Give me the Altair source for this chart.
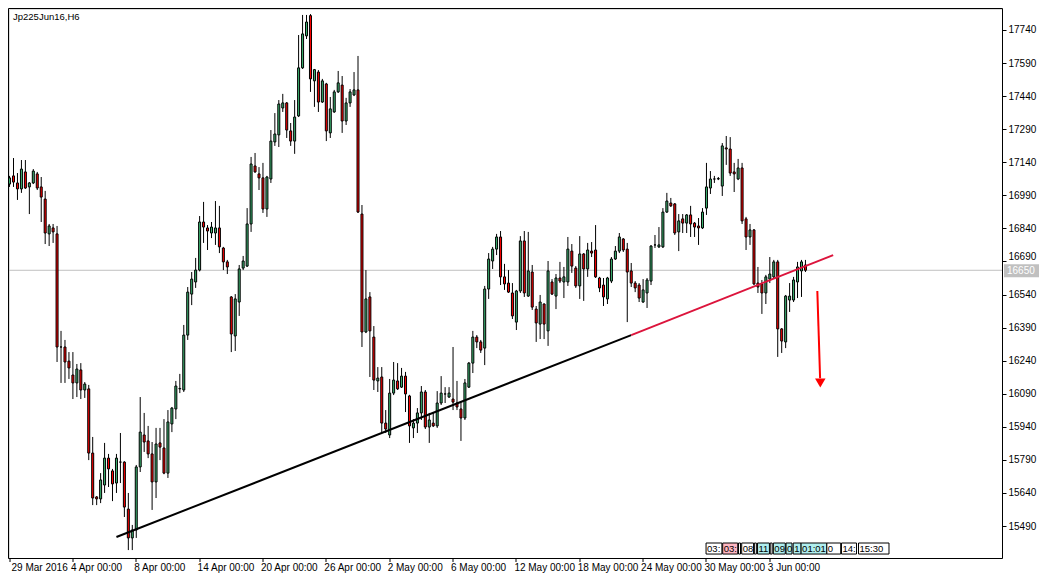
import altair as alt
import pandas as pd

# ---- OHLC values (H6 bars, index 0 = 29 Mar 2016 00:00) ----
opens = [17041,17078,17046,17019,17096,17028,17046,17087,17028,16973,16815,16842,16815,16302,16302,16238,16175,16139,16198,16107,
         16112,15821,15622,15613,15676,15798,15740,15685,15780,15780,15567,15436,15472,15758,15903,15876,15817,15690,15867,15844,
         15730,15953,16021,16112,16107,16356,16542,16597,16651,16869,16842,16819,16819,16842,16751,16688,16529,16352,16506,16660,
         16669,16860,17123,17087,17069,16928,17064,17232,17264,17386,17409,17282,17236,17350,17568,17713,17805,17509,17549,17413,
         17495,17273,17368,17459,17490,17327,17409,17445,17468,16905,16370,16529,16347,16148,16166,15957,15903,16093,16148,16120,
         16170,16080,15935,15957,16003,16098,15939,15957,15944,16048,16089,16075,16066,16048,16021,15980,16120,16229,16347,16325,
         16297,16565,16692,16746,16801,16620,16592,16547,16415,16556,16783,16533,16642,16474,16406,16497,16375,16597,16533,16615,
         16597,16597,16737,16660,16579,16724,16656,16737,16742,16615,16583,16520,16601,16701,16737,16792,16746,16647,16592,16583,
         16506,16547,16601,16765,16756,16756,16914,16955,16951,16824,16883,16864,16901,16864,16851,16842,16932,17023,17064,17064,
         17032,17205,17200,17096,17064,17114,16883,16801,16833,16592,16588,16547,16610,16620,16688,16384,16325,16515,16515,16597,
         16647,16674]
highs = [17078,17159,17091,17150,17150,17050,17109,17096,17073,17010,16860,16860,16851,16375,16334,16279,16279,16225,16229,16143,
         16130,15894,15626,15730,15867,15817,15749,15817,15912,15784,15640,15495,15767,16075,16003,15944,15871,15935,15935,15975,
         16016,16030,16148,16180,16402,16574,16642,16706,16896,16960,16855,16869,16964,16942,16756,16697,16533,16542,16674,16715,
         16932,17164,17182,17118,17137,17078,17286,17363,17422,17450,17413,17318,17422,17717,17808,17808,17812,17563,17558,17518,
         17500,17436,17468,17554,17531,17432,17472,17549,17622,16946,16651,16551,16397,16211,16211,16016,16157,16234,16229,16207,
         16189,16085,15975,16025,16125,16107,16003,16003,16102,16170,16120,16120,16302,16148,16052,16157,16234,16375,16356,16334,
         16579,16728,16756,16815,16828,16679,16651,16592,16561,16805,16828,16824,16674,16488,16538,16500,16692,16610,16633,16688,
         16665,16801,16769,16669,16805,16728,16774,16778,16855,16620,16615,16620,16710,16760,16819,16796,16774,16683,16601,16592,
         16610,16615,16764,16810,16846,16932,17001,16978,16955,16905,16905,16905,16942,16869,16887,16932,17137,17100,17078,17073,
         17227,17259,17254,17137,17155,17137,16892,16860,16837,16665,16606,16629,16710,16697,16697,16388,16538,16592,16620,16688,
         16697,16697]
lows = [17028,17028,16969,17001,17019,16905,17041,17014,16869,16769,16760,16774,16234,16139,16139,16157,16066,16075,16066,16071,
        15789,15585,15585,15594,15640,15667,15603,15640,15685,15531,15381,15381,15436,15735,15826,15798,15563,15617,15789,15725,
        15708,15916,15975,16093,16098,16334,16492,16570,16645,16774,16742,16796,16765,16728,16651,16633,16279,16284,16443,16651,
        16665,16824,17092,17014,16910,16892,17046,17214,17209,17368,17250,17214,17178,17345,17563,17699,17459,17391,17368,17409,
        17236,17250,17364,17454,17273,17309,17391,17440,16910,16302,16365,16166,16107,16098,15912,15912,15889,16084,16107,16116,
        16007,15867,15889,15912,15971,15930,15867,15939,15935,16039,16048,16071,16016,16016,15876,15971,16116,16184,16297,16275,
        16220,16520,16656,16719,16583,16561,16547,16429,16379,16547,16529,16529,16470,16325,16338,16338,16307,16538,16474,16592,
        16524,16579,16638,16570,16520,16511,16620,16710,16615,16551,16488,16497,16592,16697,16728,16733,16415,16574,16551,16506,
        16502,16479,16583,16751,16751,16751,16910,16937,16810,16737,16819,16819,16801,16801,16765,16837,16901,16996,17046,17059,
        16987,17128,17078,17005,17059,16860,16742,16765,16583,16547,16452,16497,16592,16615,16257,16275,16297,16461,16506,16524,
        16529,16642]
closes = [17069,17050,17019,17109,17023,17046,17100,17023,16982,16819,16851,16824,16302,16302,16234,16207,16139,16202,16107,16134,
          15821,15617,15613,15699,15798,15749,15681,15798,15780,15576,15436,15472,15758,15916,15871,15817,15690,15862,15848,15730,
          15962,16025,16125,16114,16356,16551,16610,16651,16869,16846,16828,16846,16842,16756,16688,16665,16361,16520,16656,16692,
          16860,17132,17096,17069,16928,17073,17236,17268,17404,17409,17286,17236,17345,17568,17722,17776,17518,17560,17413,17509,
          17282,17382,17459,17500,17327,17409,17459,17468,16914,16370,16520,16375,16152,16161,15957,15930,16093,16152,16112,16170,
          16089,15944,15957,16003,16098,15939,15971,15944,16048,16093,16089,16093,16052,16030,15980,16139,16229,16347,16325,16288,
          16565,16701,16746,16801,16620,16588,16551,16443,16556,16783,16547,16647,16483,16411,16506,16406,16647,16542,16615,16601,
          16620,16746,16669,16579,16724,16656,16742,16728,16620,16570,16529,16615,16701,16737,16801,16742,16642,16592,16570,16524,
          16561,16606,16760,16765,16765,16914,16964,16942,16819,16874,16864,16901,16860,16846,16842,16914,17028,17064,17064,17066,
          17214,17200,17091,17087,17114,16874,16801,16833,16588,16574,16547,16620,16633,16688,16384,16329,16533,16533,16606,16665,
          16688,16650]

# ---- axis labels ----
x_tick_bars = [0, 16, 32, 48, 64, 80, 96, 112, 128, 144, 160, 176, 192]
x_tick_labels = ["29 Mar 2016", "4 Apr 00:00", "8 Apr 00:00", "14 Apr 00:00", "20 Apr 00:00", "26 Apr 00:00",
                 "2 May 00:00", "6 May 00:00", "12 May 00:00", "18 May 00:00", "24 May 00:00", "30 May 00:00",
                 "3 Jun 00:00"]
y_ticks = [15490, 15640, 15790, 15940, 16090, 16240, 16390, 16540, 16690, 16840, 16990, 17140, 17290, 17440, 17590, 17740]

# ---- drawn objects ----
trend_black_x = [27, 157]
trend_black_y = [15440, 16356]
trend_red_x = [157, 208]
trend_red_y = [16356, 16719]
arrow_x = [204.0, 204.7]
arrow_y = [16556, 16160]
arrow_head = (204.75, 16139)
bid_price = 16650
symbol_title = "Jp225Jun16,H6"

session_start = [175.9, 180.1, 184.1, 184.9, 188.1, 188.9, 192.1, 192.9, 196.1, 197.9, 199.9, 206.4, 210.1, 214.4]
session_end = [179.9, 183.9, 184.6, 187.9, 188.6, 191.9, 192.6, 195.9, 197.6, 199.9, 206.4, 209.9, 213.9, 222.1]
session_text = ["03:", "03:", "", "08", "", "11", "", "09", "0", "1", "01:01", "0", "14:", "15:30"]
session_kind = ["plain", "pink", "plain", "plain", "plain", "cyan", "plain", "cyan", "cyan", "cyan", "cyan",
                "plain", "plain", "plain"]
session_low, session_high = 15363, 15413

FONT = "Liberation Sans"
W, H = 993, 549
X_DOMAIN = [1.125, 249.375]
Y_DOMAIN = [15345, 17835]

n = len(opens)
df = pd.DataFrame({"i": list(range(n)), "open": opens, "high": highs, "low": lows, "close": closes})
df["dir"] = ["up" if c > o else ("down" if c < o else "flat") for o, c in zip(opens, closes)]

xs = alt.Scale(domain=X_DOMAIN, nice=False, zero=False)
ys = alt.Scale(domain=Y_DOMAIN, nice=False, zero=False)

label_expr = "[" + ",".join("'" + s + "'" for s in x_tick_labels) + "][round(datum.value/16)]"

x_axis = alt.Axis(values=x_tick_bars, labelExpr=label_expr, tickSize=4, tickColor="black", labelAlign="left",
                  labelOffset={"condition": {"test": "datum.value == 0", "value": 2}, "value": -2},
                  labelPadding=1, labelFont=FONT, labelFontSize=10, labelColor="black",
                  grid=False, domain=False, title=None, labelOverlap=False, labelFlush=False, translate=0)
y_axis = alt.Axis(values=y_ticks, orient="right", tickSize=4, tickColor="black", labelPadding=2,
                  labelFont=FONT, labelFontSize=10, labelColor="black", grid=False, domain=False,
                  title=None, labelOverlap=False, format="d", translate=0.5,
                  labelOffset={"condition": {"test": "datum.value == 16690", "value": -5}, "value": 0})


def X(field):
    return alt.X(field, scale=xs, axis=x_axis)


def Y(field):
    return alt.Y(field, scale=ys, axis=y_axis)


base = alt.Chart(df)

bid_line = alt.Chart(pd.DataFrame({"p": [bid_price]})).mark_rule(color="#c0c0c0", strokeWidth=1).encode(
    y=Y("p:Q"))

wicks = base.mark_rule(color="black", strokeWidth=1, clip=True).encode(
    x=X("i:Q"), y=Y("low:Q"), y2="high:Q")

bodies = base.mark_bar(size=2, stroke="black", strokeWidth=1, clip=True).encode(
    x=X("i:Q"), y=Y("open:Q"), y2="close:Q",
    color=alt.Color("dir:N", scale=alt.Scale(domain=["up", "down", "flat"],
                                             range=["#3cb371", "#ff0000", "#000000"]), legend=None))

tb = alt.Chart(pd.DataFrame({"x": trend_black_x, "y": trend_black_y})).mark_line(
    color="black", strokeWidth=2).encode(x=X("x:Q"), y=Y("y:Q"))
tr = alt.Chart(pd.DataFrame({"x": trend_red_x, "y": trend_red_y})).mark_line(
    color="#dc143c", strokeWidth=2).encode(x=X("x:Q"), y=Y("y:Q"))

arrow_line = alt.Chart(pd.DataFrame({"x": [arrow_x[0]], "x2": [arrow_x[1]],
                                     "y": [arrow_y[0]], "y2": [arrow_y[1]]})).mark_rule(
    color="#ff0000", strokeWidth=2).encode(x=X("x:Q"), x2="x2:Q", y=Y("y:Q"), y2="y2:Q")
arrow_tip = alt.Chart(pd.DataFrame({"x": [arrow_head[0]], "y": [arrow_head[1]]})).mark_point(
    shape="triangle-down", filled=True, size=110, color="#ff0000", opacity=1).encode(
    x=X("x:Q"), y=Y("y:Q"))

title = alt.Chart(pd.DataFrame({"t": [symbol_title]})).mark_text(
    align="left", baseline="top", font=FONT, fontSize=9.5, color="black").encode(
    text="t:N", x=alt.value(4), y=alt.value(3))

sess = pd.DataFrame({"a": session_start, "b": session_end, "t": session_text, "k": session_kind,
                     "lo": [session_low] * len(session_start), "hi": [session_high] * len(session_start)})
sess_boxes = alt.Chart(sess).mark_rect(stroke="black", strokeWidth=1).encode(
    x=X("a:Q"), x2="b:Q", y=Y("lo:Q"), y2="hi:Q",
    fill=alt.Fill("k:N", scale=alt.Scale(domain=["plain", "pink", "cyan"],
                                          range=["#ffffff", "#ffb6c1", "#afeeee"]), legend=None))
sess_text = alt.Chart(sess).mark_text(align="left", baseline="middle", dx=1, font=FONT, fontSize=9.5,
                                      color="black").encode(
    x=X("a:Q"), y=Y("lo:Q"), yOffset=alt.value(-5.5), text="t:N")

bid_box = alt.Chart(pd.DataFrame({"p": [bid_price]})).mark_rect(
    color="#c0c0c0", yOffset=-6, y2Offset=7).encode(
    x=alt.value(995), x2=alt.value(1030), y=Y("p:Q"), y2="p:Q")
bid_text = alt.Chart(pd.DataFrame({"p": [bid_price], "t": [str(bid_price)]})).mark_text(
    align="left", baseline="middle", font=FONT, fontSize=10, color="white", dy=0.5).encode(
    x=alt.value(998), y=Y("p:Q"), text="t:N")

# plot frame, drawn on half pixels so its 1px lines stay sharp
frame = alt.Chart(pd.DataFrame({"k": [0]})).mark_rect(
    fill="transparent", stroke="black", strokeWidth=1).encode(
    x=alt.value(-0.5), x2=alt.value(W + 0.5), y=alt.value(-0.5), y2=alt.value(H + 0.5))

chart = alt.layer(bid_line, wicks, bodies, tb, tr, arrow_line, arrow_tip, title,
                  sess_boxes, sess_text, bid_box, bid_text, frame).resolve_scale(
    color="independent").properties(
    width=W, height=H, autosize=alt.AutoSizeParams(type="none"),
    padding={"left": 1, "top": 1, "right": 38, "bottom": 16}
).configure_view(stroke=None).configure_axis(labelOverlap=False).configure(background="white")

chart.save("out.html", embed_options={"renderer": "svg", "actions": False})
